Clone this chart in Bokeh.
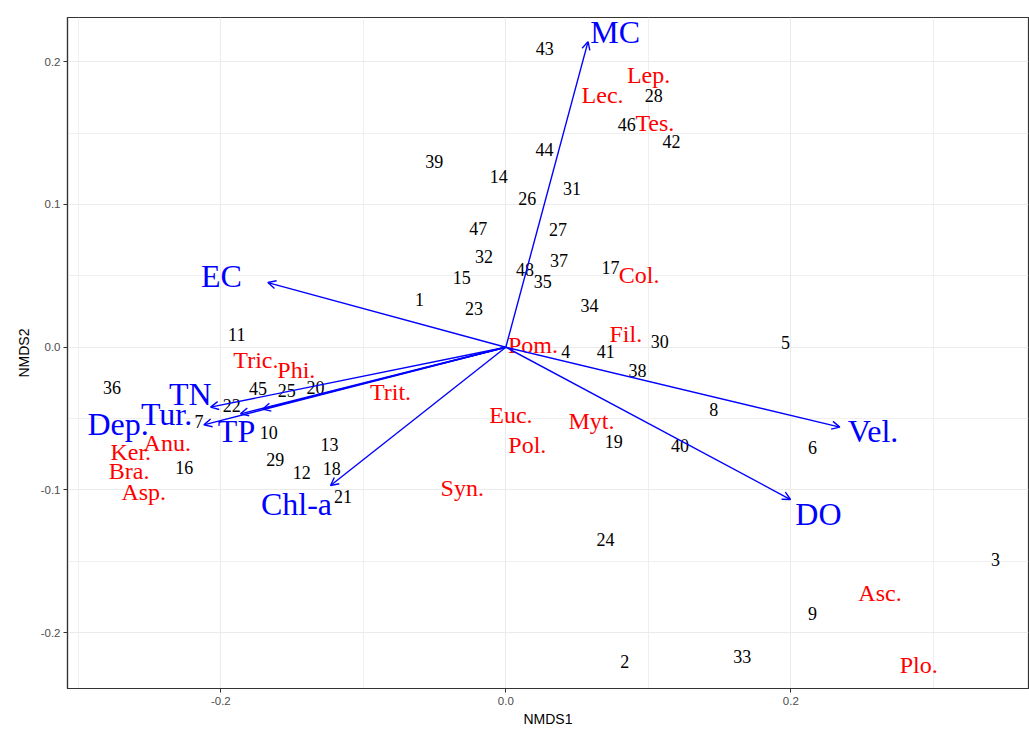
from bokeh.plotting import figure
from bokeh.models import ColumnDataSource, Arrow, OpenHead, FixedTicker, Range1d
from bokeh.core.properties import value
from bokeh.embed import file_html
from bokeh.resources import INLINE

# ---- data ----
site_labels = [str(i) for i in range(1, 49)]
site_x = [-0.0606, 0.0835, 0.3437, 0.0420, 0.1963, 0.2153, -0.2154, 0.1460,
          0.2153, -0.1663, -0.1888, -0.1432, -0.1237, -0.0049, -0.0309, -0.2256,
          0.0735, -0.1222, 0.0758, -0.1335, -0.1142, -0.1923, -0.0223, 0.0700,
          -0.1538, 0.0151, 0.0366, 0.1038, -0.1618, 0.1081, 0.0465, -0.0154,
          0.1660, 0.0587, 0.0259, -0.2764, 0.0373, 0.0924, -0.0502, 0.1222,
          0.0701, 0.1163, 0.0273, 0.0272, -0.1739, 0.0848, -0.0193, 0.0135]
site_y = [0.0334, -0.2200, -0.1486, -0.0029, 0.0030, -0.0706, -0.0522, -0.0438,
          -0.1864, -0.0600, 0.0089, -0.0880, -0.0682, 0.1197, 0.0488, -0.0841,
          0.0559, -0.0852, -0.0658, -0.0285, -0.1048, -0.0408, 0.0269, -0.1348,
          -0.0305, 0.1042, 0.0827, 0.1767, -0.0787, 0.0041, 0.1115, 0.0633,
          -0.2164, 0.0290, 0.0459, -0.0280, 0.0609, -0.0166, 0.1302, -0.0691,
          -0.0032, 0.1441, 0.2095, 0.1384, -0.0292, 0.1561, 0.0829, 0.0542]

species = ["Lep.", "Lec.", "Tes.", "Col.", "Fil.", "Pom.", "Tric.", "Phi.", "Trit.",
           "Euc.", "Myt.", "Pol.", "Anu.", "Ker.", "Bra.", "Asp.", "Syn.", "Asc.", "Plo."]
species_x = [0.1002, 0.0679, 0.1046, 0.0935, 0.0842, 0.0190, -0.1754, -0.1470, -0.0809,
             0.0036, 0.0601, 0.0151, -0.2376, -0.2632, -0.2644, -0.2541, -0.0306, 0.2626, 0.2898]
species_y = [0.1909, 0.1767, 0.1573, 0.0506, 0.0095, 0.0015, -0.0090, -0.0163, -0.0317,
             -0.0478, -0.0517, -0.0684, -0.0670, -0.0733, -0.0864, -0.1016, -0.0985, -0.1720, -0.2228]

env_names = ["MC", "EC", "TN", "Tur.", "Dep.", "TP", "Chl-a", "Vel.", "DO"]
env_x = [0.0577, -0.1670, -0.2072, -0.1707, -0.2119, -0.1862, -0.1230, 0.2344, 0.1998]
env_y = [0.2141, 0.0453, -0.0420, -0.0434, -0.0544, -0.0467, -0.0969, -0.0560, -0.1067]
env_label_x = [0.0768, -0.1996, -0.2214, -0.2381, -0.2721, -0.1890, -0.1469, 0.2577, 0.2194]
env_label_y = [0.2207, 0.0501, -0.0331, -0.0467, -0.0537, -0.0584, -0.1097, -0.0589, -0.1170]

x_ticks = [-0.2, 0.0, 0.2]
x_tick_labels = ["-0.2", "0.0", "0.2"]
x_minor = [-0.3, -0.1, 0.1, 0.3]
y_ticks = [-0.2, -0.1, 0.0, 0.1, 0.2]
y_tick_labels = ["-0.2", "-0.1", "0.0", "0.1", "0.2"]
y_minor = [-0.15, -0.05, 0.05, 0.15]

# ---- figure ----
p = figure(width=1029, height=731, output_backend="svg", toolbar_location=None,
           x_range=Range1d(-0.3076, 0.3668), y_range=Range1d(-0.2391, 0.2310),
           min_border_left=67, min_border_right=1, min_border_top=17, min_border_bottom=43,
           x_axis_label="NMDS1", y_axis_label="NMDS2")
p.background_fill_color = "white"
p.border_fill_color = "white"
p.outline_line_color = "#333333"
p.outline_line_width = 1.2

p.xaxis.ticker = FixedTicker(ticks=x_ticks, minor_ticks=x_minor)
p.yaxis.ticker = FixedTicker(ticks=y_ticks, minor_ticks=y_minor)
p.xaxis.major_label_overrides = {t: l for t, l in zip(x_ticks, x_tick_labels)}
p.yaxis.major_label_overrides = {t: l for t, l in zip(y_ticks, y_tick_labels)}

for ax in (p.xaxis, p.yaxis):
    ax.axis_line_color = "#333333"
    ax.axis_line_width = 1.2
    ax.major_tick_line_color = "#333333"
    ax.major_tick_out = 4
    ax.major_tick_in = 0
    ax.minor_tick_line_color = None
    ax.major_label_text_font = "Liberation Sans"
    ax.major_label_text_font_size = "11.5px"
    ax.major_label_text_color = "#4D4D4D"
    ax.axis_label_text_font = "Liberation Sans"
    ax.axis_label_text_font_size = "14px"
    ax.axis_label_text_font_style = "normal"
    ax.axis_label_text_color = "black"
p.xaxis.major_label_standoff = 4
p.xaxis.axis_label_standoff = 3
p.yaxis.major_label_standoff = 3
p.yaxis.axis_label_standoff = 6

for g in (p.xgrid, p.ygrid):
    g.grid_line_color = "#EBEBEB"
    g.grid_line_width = 1.1
    g.minor_grid_line_color = "#EBEBEB"
    g.minor_grid_line_width = 0.8

# arrows
env_src = ColumnDataSource(dict(x0=[0.0] * len(env_x), y0=[0.0] * len(env_y),
                                x1=env_x, y1=env_y))
p.add_layout(Arrow(source=env_src, x_start="x0", y_start="y0", x_end="x1", y_end="y1",
                   line_color="#0000FF", line_width=1.4,
                   end=OpenHead(size=8, line_color="#0000FF", line_width=1.4)))

# env labels
p.text(x=env_label_x, y=env_label_y, text=env_names, text_color="#0000FF",
       text_font=value("Liberation Serif"), text_font_size="32px",
       text_align="center", text_baseline="middle")

# species labels
p.text(x=species_x, y=species_y, text=species, text_color="#FF0000",
       text_font=value("Liberation Serif"), text_font_size="24px",
       text_align="center", text_baseline="middle")

# site labels
p.text(x=site_x, y=site_y, text=site_labels, text_color="black",
       text_font=value("Liberation Serif"), text_font_size="18px",
       text_align="center", text_baseline="middle")

open("out.html", "w").write(file_html(p, INLINE))
